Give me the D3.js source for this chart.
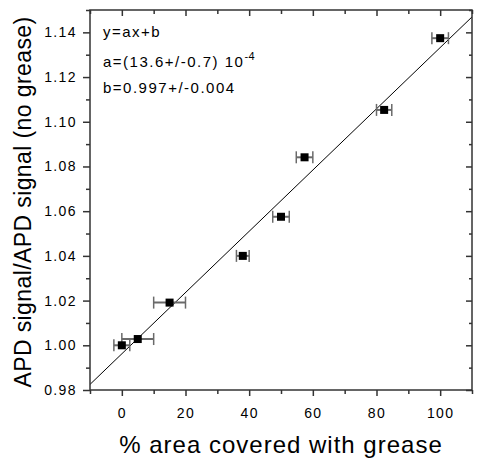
<!DOCTYPE html>
<html>
  <head>
    <meta charset="UTF-8">
    <title>APD signal vs grease coverage</title>
    <script src="https://d3js.org/d3.v7.min.js" charset="utf-8"></script>
    <style>
      body { margin: 0; background: #fff; }
      text { font-family: "Liberation Sans", Arial, sans-serif; }
    </style>
  </head>
  <body>
    <script>
        var w = 477;
        var h = 462;

        // data
        var coverage = [0, 5, 15, 38, 50, 57.4, 82.4, 100];
        var ratio = [1.0000, 1.0028, 1.0191, 1.0400, 1.0575, 1.0841, 1.1053, 1.1374];
        var coverageErr = [2.5, 5, 5, 2, 2.6, 2.6, 2.4, 2.6];

        // fitted line y = ax + b
        var fitA = 0.00137;
        var fitB = 0.9962;
        var fitLines = ["y=ax+b", "a=(13.6+/-0.7) 10", "b=0.997+/-0.004"];

        var xTicks = [0, 20, 40, 60, 80, 100];
        var xMinor = [-10, 10, 30, 50, 70, 90, 110];
        var yTicks = [0.98, 1.00, 1.02, 1.04, 1.06, 1.08, 1.10, 1.12, 1.14];
        var yMinor = [0.99, 1.01, 1.03, 1.05, 1.07, 1.09, 1.11, 1.13, 1.15];

        // plot box (window.top is reserved, so use pl/pr/pt/pb)
        var pl = 90, pr = 472, pt = 10, pb = 390;

        var x = d3.scaleLinear().domain([-10, 110]).range([pl, pr]);
        var y = d3.scaleLinear().domain([0.98, 1.15]).range([pb, pt]);

        var svg = d3.select("body").append("svg")
            .attr("width", w)
            .attr("height", h);

        var plot = svg.append("g");

        // clip for the fit line
        svg.append("clipPath").attr("id", "clip")
            .append("rect")
            .attr("x", pl).attr("y", pt)
            .attr("width", pr - pl).attr("height", pb - pt);

        // fit line
        plot.append("line")
            .attr("clip-path", "url(#clip)")
            .attr("x1", x(-10)).attr("y1", y(fitA * -10 + fitB))
            .attr("x2", x(110)).attr("y2", y(fitA * 110 + fitB))
            .attr("stroke", "#000")
            .attr("stroke-width", 1);

        var pts = coverage.map(function(c, i){
            return {x: c, y: ratio[i], e: coverageErr[i]};
        });

        // error bars
        var eb = plot.selectAll("g.err")
            .data(pts)
            .enter()
            .append("g")
            .attr("class", "err")
            .attr("stroke", "#6a6a6a");

        eb.append("line")
            .attr("x1", function(d){ return x(d.x - d.e); })
            .attr("x2", function(d){ return x(d.x + d.e); })
            .attr("y1", function(d){ return y(d.y); })
            .attr("y2", function(d){ return y(d.y); })
            .attr("stroke-width", 2);

        eb.selectAll("line.cap")
            .data(function(d){ return [[d.x - d.e, d.y], [d.x + d.e, d.y]]; })
            .enter()
            .append("line")
            .attr("class", "cap")
            .attr("x1", function(d){ return x(d[0]); })
            .attr("x2", function(d){ return x(d[0]); })
            .attr("y1", function(d){ return y(d[1]) - 6; })
            .attr("y2", function(d){ return y(d[1]) + 6; })
            .attr("stroke-width", 1.5);

        // markers
        plot.selectAll("rect.pt")
            .data(pts)
            .enter()
            .append("rect")
            .attr("class", "pt")
            .attr("x", function(d){ return x(d.x) - 4; })
            .attr("y", function(d){ return y(d.y) - 4; })
            .attr("width", 8)
            .attr("height", 8)
            .attr("fill", "#000");

        //axes
        function styleAxis(g){
            g.select(".domain").remove();
            g.selectAll(".tick line").attr("stroke", "#333").attr("stroke-width", 1.5);
            g.selectAll(".tick text")
                .attr("fill", "#000")
                .style("font-size", "14px")
                .style("letter-spacing", "1.4px")
                .style("font-family", "'Liberation Sans', Arial, sans-serif");
        }

        svg.append("g")
            .attr("transform", "translate(0," + pb + ")")
            .call(d3.axisBottom(x).tickValues(xTicks).tickSize(6).tickPadding(12).tickFormat(d3.format("d")))
            .call(styleAxis);
        svg.append("g")
            .attr("transform", "translate(0," + pb + ")")
            .call(d3.axisBottom(x).tickValues(xMinor).tickSize(4).tickFormat(""))
            .call(styleAxis);

        svg.append("g")
            .attr("transform", "translate(" + pl + ",0)")
            .call(d3.axisLeft(y).tickValues(yTicks).tickSize(7).tickPadding(6).tickFormat(d3.format(".2f")))
            .call(styleAxis);
        svg.append("g")
            .attr("transform", "translate(" + pl + ",0)")
            .call(d3.axisLeft(y).tickValues(yMinor).tickSize(4).tickFormat(""))
            .call(styleAxis);

        // mirrored axes, ticks inward
        svg.append("g")
            .attr("transform", "translate(0," + pt + ")")
            .call(d3.axisBottom(x).tickValues(xTicks).tickSize(6).tickFormat(""))
            .call(styleAxis);
        svg.append("g")
            .attr("transform", "translate(0," + pt + ")")
            .call(d3.axisBottom(x).tickValues(xMinor).tickSize(4).tickFormat(""))
            .call(styleAxis);
        svg.append("g")
            .attr("transform", "translate(" + pr + ",0)")
            .call(d3.axisLeft(y).tickValues(yTicks).tickSize(6).tickFormat(""))
            .call(styleAxis);
        svg.append("g")
            .attr("transform", "translate(" + pr + ",0)")
            .call(d3.axisLeft(y).tickValues(yMinor).tickSize(3).tickFormat(""))
            .call(styleAxis);

        // frame
        svg.append("rect")
            .attr("x", pl).attr("y", pt)
            .attr("width", pr - pl).attr("height", pb - pt)
            .attr("fill", "none")
            .attr("stroke", "#333")
            .attr("stroke-width", 1.5);

        // fit annotation
        var ann = svg.append("g")
            .attr("font-size", "15px")
            .style("letter-spacing", "1.5px");
        ann.append("text").attr("x", 103).attr("y", 37).text(fitLines[0]);
        var t2 = ann.append("text").attr("x", 103).attr("y", 67).text(fitLines[1]);
        t2.append("tspan").attr("dy", -7).attr("font-size", "11px").style("letter-spacing", "0.5px").text("-4");
        ann.append("text").attr("x", 103).attr("y", 93).text(fitLines[2]);

        // axis titles
        svg.append("text")
            .attr("x", (pl + pr) / 2)
            .attr("y", 453)
            .attr("text-anchor", "middle")
            .attr("font-size", "24px")
            .style("letter-spacing", "1px")
            .text("% area covered with grease");

        svg.append("text")
            .attr("transform", "translate(31," + ((pt + pb) / 2 + 2) + ") rotate(-90)")
            .attr("text-anchor", "middle")
            .attr("font-size", "23px")
            .style("letter-spacing", "0.4px")
            .text("APD signal/APD signal (no grease)");
    </script>
  </body>
</html>
